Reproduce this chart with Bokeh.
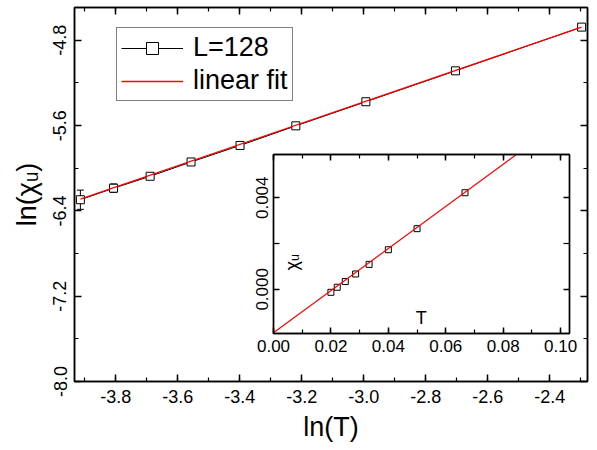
from bokeh.plotting import figure
from bokeh.models import (ColumnDataSource, Whisker, TeeHead, LinearAxis, SingleIntervalTicker,
                          FixedTicker, NumeralTickFormatter, Legend, LegendItem, Label, Range1d,
                          CustomLabelingPolicy)
from bokeh.layouts import column
from bokeh.embed import file_html
from bokeh.resources import INLINE

# ---- main data: ln(T) vs ln(chi_u), L=128 ----
lnT = [-3.914, -3.807, -3.689, -3.557, -3.399, -3.219, -2.993, -2.704, -2.297]
lnchi = [-6.295, -6.187, -6.075, -5.941, -5.786, -5.602, -5.376, -5.086, -4.676]
lnchi_err = [0.09, 0.04, 0.02, 0.02, 0.02, 0.02, 0.025, 0.025, 0.025]
fit_lnT = [-3.914, -2.297]
fit_lnchi = [-6.29, -4.676]

# ---- inset data: T vs chi_u ----
T = [0.0200, 0.0222, 0.0250, 0.0286, 0.0333, 0.0400, 0.0500, 0.0667]
chi = [-0.00013, 0.00009, 0.00034, 0.00067, 0.00109, 0.00173, 0.00265, 0.00422]
fit_T = [0.0, 0.1031]
fit_chi = [-0.0019, 0.00759]

FONT = "Liberation Sans"
NO_LABELS = "for (const i of Array.from(indices)) { indices.unset(i) } return indices"


def style_axis(ax, label_size, show_labels=True):
    ax.axis_line_color = "black"
    ax.axis_line_width = 1.5
    ax.major_tick_line_color = "black"
    ax.minor_tick_line_color = "black"
    ax.major_tick_line_width = 1.5
    ax.minor_tick_line_width = 1.2
    ax.major_tick_in = 7
    ax.major_tick_out = 0
    ax.minor_tick_in = 4
    ax.minor_tick_out = 0
    ax.major_label_text_font = FONT
    ax.major_label_text_color = "black"
    ax.axis_label_text_font = FONT
    ax.axis_label_text_font_style = "normal"
    ax.axis_label_text_color = "black"
    if show_labels:
        ax.major_label_text_font_size = label_size
    else:
        ax.major_label_text_font_size = "0px"
        ax.major_label_standoff = 0
        ax.axis_label_standoff = 0
        ax.major_label_policy = CustomLabelingPolicy(code=NO_LABELS)


# ================= main figure =================
MAIN_W, MAIN_H = 597, 444
p = figure(width=MAIN_W, height=MAIN_H,
           x_range=Range1d(-3.933, -2.278), y_range=Range1d(-8.0, -4.492),
           output_backend="svg", toolbar_location=None,
           min_border_left=73, min_border_right=0, min_border_top=7, min_border_bottom=61,
           x_axis_location=None, y_axis_location=None)
p.grid.visible = False
p.outline_line_color = "black"
p.outline_line_width = 1.5
p.background_fill_color = "white"
p.border_fill_color = "white"

xt = SingleIntervalTicker(interval=0.2, num_minor_ticks=2)
yt = SingleIntervalTicker(interval=0.8, num_minor_ticks=2)

xb = LinearAxis(ticker=xt, formatter=NumeralTickFormatter(format="0.0"), axis_label="ln(T)")
style_axis(xb, "18px")
xb.major_label_standoff = 8
xb.axis_label_text_font_size = "27px"
xb.axis_label_standoff = 6
p.add_layout(xb, "below")

yl = LinearAxis(ticker=yt, formatter=NumeralTickFormatter(format="0.0"), axis_label="ln(χᵤ)")
style_axis(yl, "18px")
yl.major_label_orientation = "vertical"
yl.major_label_standoff = 8
yl.axis_label_text_font_size = "27px"
yl.axis_label_standoff = 9
p.add_layout(yl, "left")

xtop = LinearAxis(ticker=xt)
style_axis(xtop, "18px", show_labels=False)
p.add_layout(xtop, "above")
yr = LinearAxis(ticker=yt)
style_axis(yr, "18px", show_labels=False)
p.add_layout(yr, "right")

src = ColumnDataSource(dict(x=lnT, y=lnchi,
                            lo=[a - e for a, e in zip(lnchi, lnchi_err)],
                            hi=[a + e for a, e in zip(lnchi, lnchi_err)]))
data_line = p.line("x", "y", source=src, line_color="black", line_width=1)
wh = Whisker(source=src, base="x", lower="lo", upper="hi", line_color="black", line_width=1,
             upper_head=TeeHead(size=7, line_color="black", line_width=1),
             lower_head=TeeHead(size=7, line_color="black", line_width=1))
p.add_layout(wh)
data_sq = p.scatter("x", "y", source=src, marker="square", size=8, line_color="black",
                    line_width=1, fill_color="white")
fit_line = p.line(fit_lnT, fit_lnchi, line_color="red", line_width=1.3)

legend = Legend(items=[LegendItem(label="L=128", renderers=[data_line, data_sq]),
                       LegendItem(label="linear fit", renderers=[fit_line])],
                location=(42, 280))
legend.label_text_font = FONT
legend.label_text_font_size = "27px"
legend.label_text_color = "black"
legend.glyph_width = 62
legend.glyph_height = 30
legend.label_height = 30
legend.label_standoff = 10
legend.spacing = 2
legend.padding = 4
legend.margin = 0
legend.border_line_color = "black"
legend.border_line_width = 1
legend.background_fill_color = "white"
legend.background_fill_alpha = 1
p.add_layout(legend, "center")

# ================= inset figure =================
IN_L, IN_R, IN_T, IN_B = 74, 10, 10, 35
q = figure(width=IN_L + 296 + IN_R, height=IN_T + 179 + IN_B,
           x_range=Range1d(0.0, 0.1031), y_range=Range1d(-0.00193, 0.00589),
           output_backend="svg", toolbar_location=None,
           min_border_left=IN_L, min_border_right=IN_R, min_border_top=IN_T, min_border_bottom=IN_B,
           x_axis_location=None, y_axis_location=None)
q.grid.visible = False
q.outline_line_color = "black"
q.outline_line_width = 1.3
q.background_fill_color = "white"
q.border_fill_alpha = 0

qxt = SingleIntervalTicker(interval=0.02, num_minor_ticks=2)
qyt = FixedTicker(ticks=[0.0, 0.004], minor_ticks=[0.002])

qx = LinearAxis(ticker=qxt, formatter=NumeralTickFormatter(format="0.00"))
style_axis(qx, "17px")
qx.major_label_standoff = 6
qx.major_tick_in = 6
q.add_layout(qx, "below")

qy = LinearAxis(ticker=qyt, formatter=NumeralTickFormatter(format="0.000"))
style_axis(qy, "17px")
qy.major_label_orientation = "vertical"
qy.major_label_standoff = 5
qy.major_tick_in = 6
qy.minor_tick_in = 6
q.add_layout(qy, "left")

qxtop = LinearAxis(ticker=qxt)
style_axis(qxtop, "17px", show_labels=False)
qxtop.major_tick_in = 6
q.add_layout(qxtop, "above")
qyr = LinearAxis(ticker=qyt)
style_axis(qyr, "17px", show_labels=False)
qyr.major_tick_in = 6
qyr.minor_tick_in = 6
q.add_layout(qyr, "right")

q.scatter(T, chi, marker="square", size=6, line_color="black", line_width=1, fill_color="white")
q.line(fit_T, fit_chi, line_color="red", line_width=1.2)

q.add_layout(Label(x=0.0065, y=0.00118, text="χᵤ", angle=90, angle_units="deg",
                   text_font=FONT, text_font_size="18px", text_align="center",
                   text_baseline="middle", text_color="black"))
q.add_layout(Label(x=0.0515, y=-0.00126, text="T", text_font=FONT, text_font_size="18px",
                   text_align="center", text_baseline="middle", text_color="black"))

# place inset over the main figure (inset frame top-left at page (273, 154))
q.margin = (154 - IN_T - MAIN_H, 0, 0, 273 - IN_L)

layout = column(p, q, spacing=0)
open("out.html", "w").write(file_html(layout, INLINE))
